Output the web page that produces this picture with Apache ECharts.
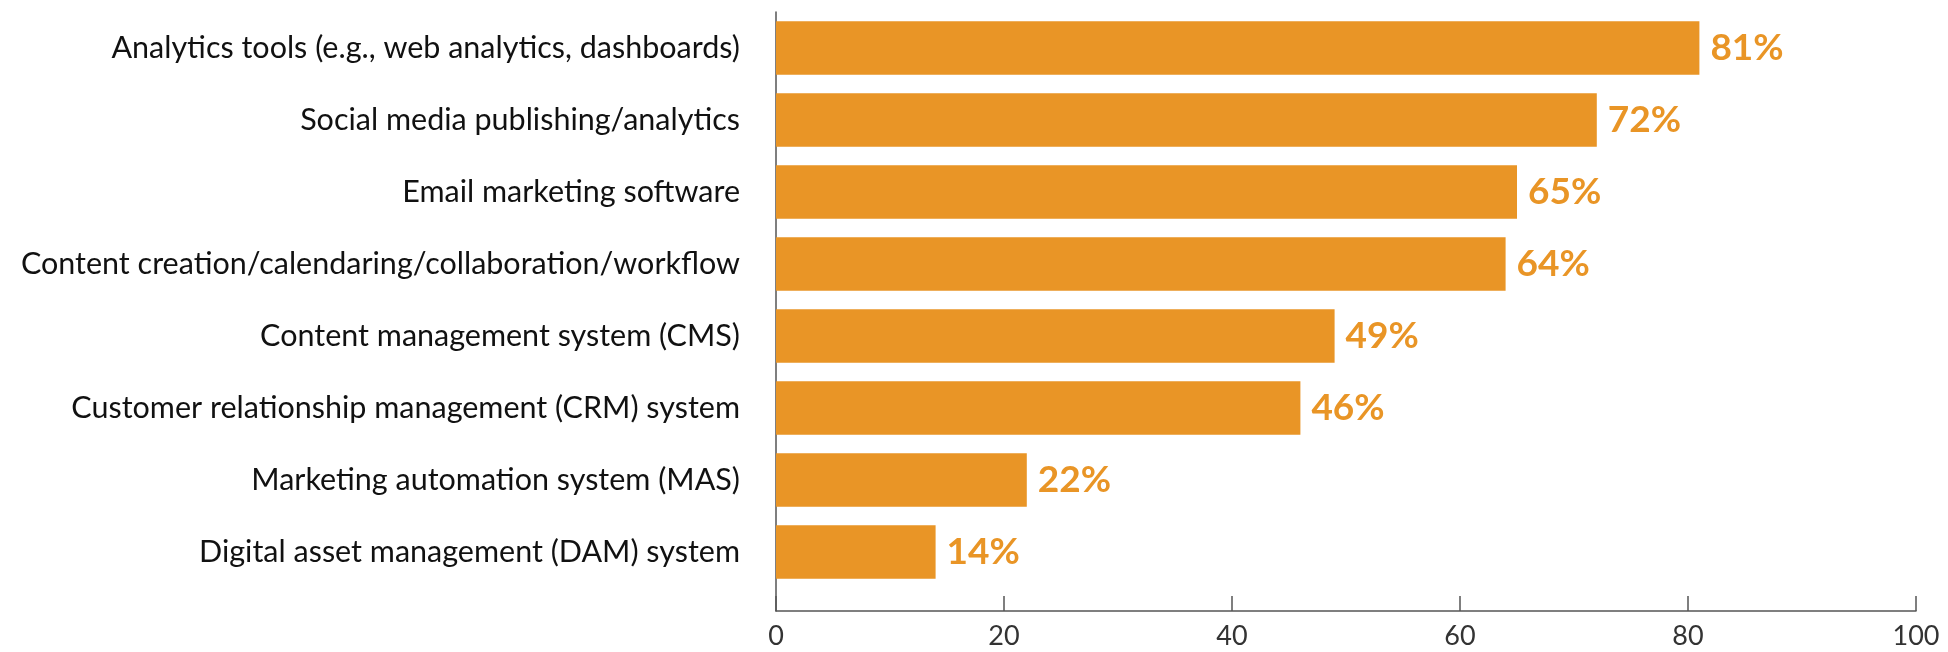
<!DOCTYPE html>
<html>
<head>
<meta charset="utf-8">
<script src="https://cdn.jsdelivr.net/npm/echarts@6/dist/echarts.min.js"></script>
<style>
html,body{margin:0;padding:0;background:#fff;}
#chart{width:1948px;height:652px;}
</style>
</head>
<body>
<div id="chart"></div>
<script>
const categories = [
  "Analytics tools (e.g., web analytics, dashboards)",
  "Social media publishing/analytics",
  "Email marketing software",
  "Content creation/calendaring/collaboration/workflow",
  "Content management system (CMS)",
  "Customer relationship management (CRM) system",
  "Marketing automation system (MAS)",
  "Digital asset management (DAM) system"
];
const values = [81, 72, 65, 64, 49, 46, 22, 14];
const xTicks = [0, 20, 40, 60, 80, 100];

const FONT = "Lato";
const ORANGE = "#E99526";

const chart = echarts.init(document.getElementById('chart'));
chart.setOption({
  animation: false,
  grid: [
    {left: 776, right: 32, top: 12, bottom: 64},
    {left: 776, right: 32, top: 12, bottom: 41}
  ],
  xAxis: [
    {gridIndex: 0, type: 'value', min: 0, max: 100, interval: 20, show: false},
    {gridIndex: 1, type: 'value', min: xTicks[0], max: xTicks[xTicks.length-1], interval: 20,
     axisLine: {show: true, lineStyle: {color: '#555', width: 1.5}},
     axisTick: {show: true, inside: true, length: 15, lineStyle: {color: '#555', width: 1.5}},
     splitLine: {show: false},
     axisLabel: {margin: 12, fontFamily: FONT, fontSize: 27, color: '#333'}}
  ],
  yAxis: [
    {gridIndex: 0, type: 'category', data: categories, inverse: true,
     axisLine: {show: false}, axisTick: {show: false},
     axisLabel: {margin: 36, fontFamily: FONT, fontSize: 30.5, color: '#111'}},
    {gridIndex: 1, type: 'value', min: 0, max: 1,
     axisLine: {show: true, lineStyle: {color: '#555', width: 1.5}},
     axisTick: {show: false}, axisLabel: {show: false}, splitLine: {show: false}}
  ],
  series: [{
    type: 'bar',
    xAxisIndex: 0, yAxisIndex: 0,
    data: values,
    barCategoryGap: '26%',
    itemStyle: {color: ORANGE},
    label: {
      show: true, position: 'right', distance: 11,
      formatter: p => p.value + '%',
      fontFamily: FONT, fontWeight: 'bold', fontSize: 37, color: ORANGE
    }
  }]
});
</script>
</body>
</html>
